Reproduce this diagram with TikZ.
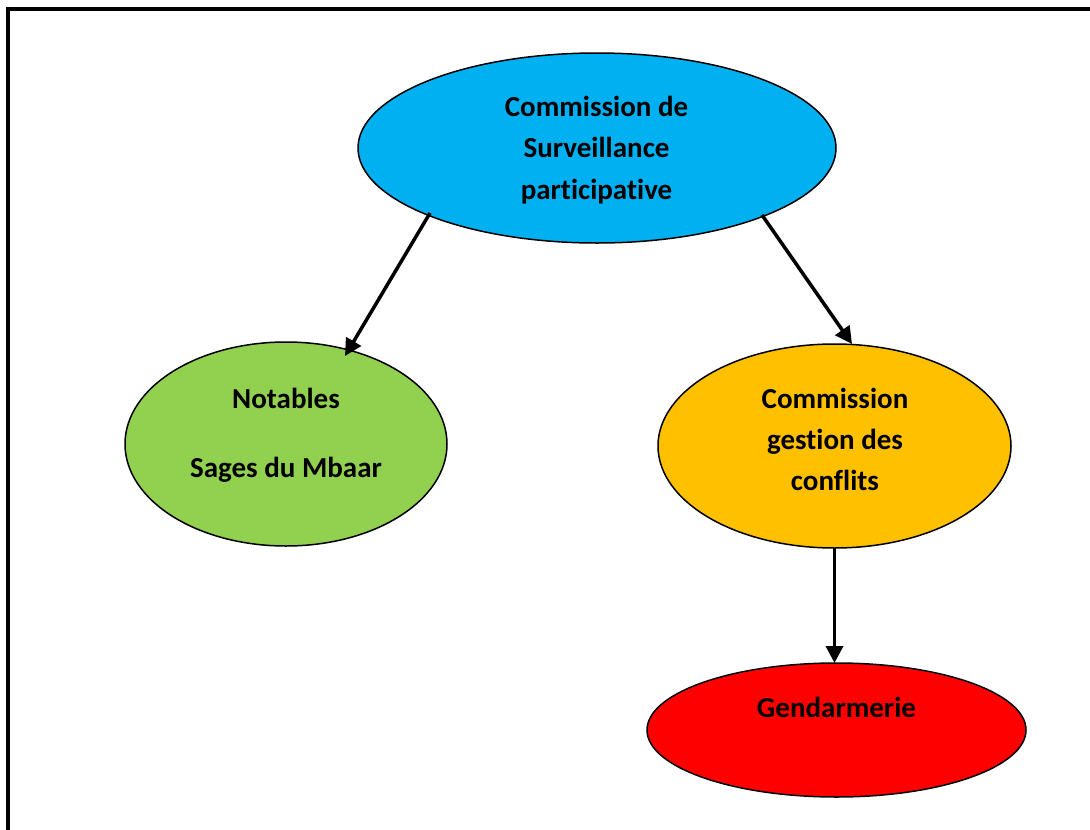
\documentclass[tikz,border=0pt]{standalone}
\usepackage{fontspec}
\setmainfont[Ligatures=NoCommon]{Carlito}
\usetikzlibrary{shapes.geometric,arrows.meta}
\definecolor{cblue}{HTML}{00B0F0}
\definecolor{cgreen}{HTML}{92D050}
\definecolor{corange}{HTML}{FFC000}
\definecolor{cred}{HTML}{FF0000}
\begin{document}
\begin{tikzpicture}[x=1pt,y=-1pt,
  oval/.style={ellipse,draw=black,line width=1.5pt,inner sep=0pt,outer sep=0pt},
  txt/.style={anchor=base,inner sep=0pt,font=\fontsize{29}{35}\selectfont\bfseries},
  arr/.style={line width=3.5pt,-{Triangle[length=17pt,width=17pt]}}]
\useasboundingbox (0,0) rectangle (1090,830);
\fill[white] (0,0) rectangle (1090,830);
\draw[line width=4.3pt] (8,832) -- (8,9) -- (1092,9);
% ellipses
\node[oval,fill=cblue,minimum width=478pt,minimum height=190pt] (csp) at (597,148) {};
\node[oval,fill=cgreen,minimum width=322pt,minimum height=204pt] (nsm) at (286,444) {};
\node[oval,fill=corange,minimum width=353pt,minimum height=204pt] (cgc) at (834.5,446) {};
\node[oval,fill=cred,minimum width=379pt,minimum height=134pt] (gend) at (836.5,730) {};
% texts
\node[txt] (csp1) at (596.5,116) {Commission de};
\node[txt] (csp2) at (596.5,157.5) {Surveillance};
\node[txt] (csp3) at (596.5,199) {participative};
\node[txt] (nsm1) at (286,408) {Notables};
\node[txt] (nsm2) at (286,477) {Sages du Mbaar};
\node[txt] (cgc1) at (835,408) {Commission};
\node[txt] (cgc2) at (835,449) {gestion des};
\node[txt] (cgc3) at (835,490) {conflits};
\node[txt] (gend1) at (836.5,717) {Gendarmerie};
% arrows
\draw[arr] ([shift={(-167,65)}]csp.center) -- ([shift={(59,-88)}]nsm.center);
\draw[arr] ([shift={(165,67)}]csp.center) -- ([shift={(17.5,-102)}]cgc.center);
\draw[arr] (cgc.south) -- (cgc.south |- gend.north);
\end{tikzpicture}
\end{document}
